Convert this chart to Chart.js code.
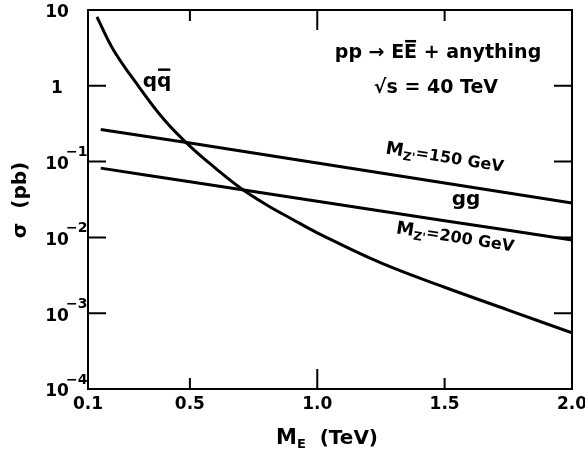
<!DOCTYPE html>
<html>
<head>
<meta charset="utf-8">
<script src="https://cdn.jsdelivr.net/npm/chart.js@4.4.0/dist/chart.umd.min.js"></script>
<style>
  body { margin: 0; background: #fff; }
  #wrap { width: 585px; height: 459px; }
</style>
</head>
<body>
<div id="wrap"><canvas id="grafico"></canvas></div>
<script>
// q qbar -> E Ebar
const massaQQ = [0.135, 0.2, 0.3, 0.4, 0.5, 0.6, 0.7, 0.8, 0.9, 1.0, 1.25, 1.5, 1.75, 2.0];
const sigmaQQ = [8.1, 2.97, 0.97, 0.354, 0.16, 0.082, 0.0445, 0.027, 0.0175, 0.0115, 0.0046, 0.0022, 0.0011, 0.00055];

// gg com M_Z' = 150 GeV
const massaZ150 = [0.15, 0.5, 1.0, 1.5, 2.0];
const sigmaZ150 = [0.265, 0.176, 0.096, 0.0523, 0.0284];

// gg com M_Z' = 200 GeV
const massaZ200 = [0.15, 0.5, 1.0, 1.5, 2.0];
const sigmaZ200 = [0.082, 0.0542, 0.030, 0.0166, 0.00925];

const ticksX = [0.1, 0.5, 1.0, 1.5, 2.0];
const rotulosX = ['0.1', '0.5', '1.0', '1.5', '2.0'];
const ticksY = [10, 1, 0.1, 0.01, 0.001, 0.0001];
const rotulosY = [['10', ''], ['1', ''], ['10', '−1'], ['10', '−2'], ['10', '−3'], ['10', '−4']];

const FAMILIA = '"DejaVu Sans", sans-serif';
const fonte = t => `bold ${t}px ${FAMILIA}`;

function pontos(xs, ys) {
  return xs.map((v, i) => ({ x: v, y: ys[i] }));
}

// desenha texto com partes de tamanhos diferentes: [texto, tamanho, dy, barra]
function textoComposto(ctx, partes, cx, cy) {
  let largura = 0;
  partes.forEach(p => { ctx.font = fonte(p[1]); largura += ctx.measureText(p[0]).width; });
  let px = cx - largura / 2;
  partes.forEach(p => {
    ctx.font = fonte(p[1]);
    const w = ctx.measureText(p[0]).width;
    const yy = cy + (p[2] || 0);
    ctx.fillText(p[0], px, yy);
    if (p[3]) {
      ctx.beginPath();
      ctx.lineWidth = 2.5;
      ctx.moveTo(px + 1, yy - p[1] * 0.62);
      ctx.lineTo(px + w - 1, yy - p[1] * 0.62);
      ctx.stroke();
    }
    px += w;
  });
}

const molduraPlugin = {
  id: 'moldura',
  afterDraw(chart) {
    const { ctx, chartArea: a, scales: { x, y } } = chart;
    ctx.save();
    ctx.strokeStyle = '#000';
    ctx.fillStyle = '#000';
    ctx.lineWidth = 2;
    ctx.strokeRect(a.left, a.top, a.right - a.left, a.bottom - a.top);

    // marcas para dentro
    ctx.beginPath();
    ticksX.forEach(v => {
      if (v <= x.min || v >= x.max) return;
      const px = x.getPixelForValue(v);
      const len = v === 1 ? 20 : 11;
      ctx.moveTo(px, a.bottom); ctx.lineTo(px, a.bottom - len);
      ctx.moveTo(px, a.top); ctx.lineTo(px, a.top + len);
    });
    ticksY.forEach(v => {
      if (v <= y.min || v >= y.max) return;
      const py = y.getPixelForValue(v);
      ctx.moveTo(a.left, py); ctx.lineTo(a.left + 18, py);
      ctx.moveTo(a.right, py); ctx.lineTo(a.right - 18, py);
    });
    ctx.stroke();

    // rotulos
    ctx.textBaseline = 'middle';
    ctx.textAlign = 'center';
    ctx.font = fonte(17);
    ticksX.forEach((v, i) => {
      ctx.fillText(rotulosX[i], x.getPixelForValue(v), a.bottom + 16);
    });
    ticksY.forEach((v, i) => {
      const py = y.getPixelForValue(v);
      const [base, exp] = rotulosY[i];
      ctx.textAlign = 'center';
      ctx.font = fonte(17);
      ctx.fillText(base, 57, py + 3);
      if (exp) {
        ctx.textAlign = 'left';
        ctx.font = fonte(14);
        ctx.fillText(exp, 66, py - 9);
      }
    });

    // titulos dos eixos
    ctx.textAlign = 'left';
    textoComposto(ctx, [['M', 21, 0], ['E', 13, 6], ['  (TeV)', 20, 0]], 327, 439);
    ctx.save();
    ctx.translate(21, 200);
    ctx.rotate(-Math.PI / 2);
    textoComposto(ctx, [['σ  (pb)', 20, 0]], 0, 0);
    ctx.restore();

    // anotacoes
    const pos = (mx, s) => [x.getPixelForValue(mx), y.getPixelForValue(s)];
    let [qx, qy] = pos(0.371, 1.12);
    textoComposto(ctx, [['q', 20, 0], ['q', 20, 0, true]], qx, qy);
    [qx, qy] = pos(1.474, 2.71);
    textoComposto(ctx, [['pp → E', 19, 0], ['E', 19, 0, true], [' + anything', 19, 0]], qx, qy);
    [qx, qy] = pos(1.466, 0.935);
    textoComposto(ctx, [['√s = 40 TeV', 19, 0]], qx, qy);
    [qx, qy] = pos(1.584, 0.0311);
    textoComposto(ctx, [['gg', 20, 0]], qx, qy);

    const rotacionado = (mx, s, partes) => {
      const [px, py] = pos(mx, s);
      ctx.save();
      ctx.translate(px, py);
      ctx.rotate(9 * Math.PI / 180);
      textoComposto(ctx, partes, 0, 0);
      ctx.restore();
    };
    rotacionado(1.5, 0.111, [['M', 18, 0], ["Z'", 12, 5], ['=150 GeV', 16, 0]]);
    rotacionado(1.541, 0.0098, [['M', 18, 0], ["Z'", 12, 5], ['=200 GeV', 16, 0]]);
    ctx.restore();
  }
};

const estiloLinha = {
  borderColor: '#000',
  borderWidth: 3,
  pointRadius: 0,
  fill: false,
  tension: 0.4
};

new Chart(document.getElementById('grafico'), {
  type: 'line',
  data: {
    datasets: [
      { label: 'qq', data: pontos(massaQQ, sigmaQQ), ...estiloLinha },
      { label: 'Z150', data: pontos(massaZ150, sigmaZ150), ...estiloLinha },
      { label: 'Z200', data: pontos(massaZ200, sigmaZ200), ...estiloLinha }
    ]
  },
  options: {
    responsive: true,
    maintainAspectRatio: false,
    animation: false,
    layout: { padding: { top: 10, right: 13, left: 0, bottom: 0 } },
    plugins: { legend: { display: false }, tooltip: { enabled: false } },
    scales: {
      x: {
        type: 'linear', min: 0.1, max: 2.0,
        grid: { display: false }, border: { display: false },
        ticks: { display: false },
        afterFit: s => { s.height = 70; }
      },
      y: {
        type: 'logarithmic', min: 0.0001, max: 10,
        grid: { display: false }, border: { display: false },
        ticks: { display: false },
        afterFit: s => { s.width = 88; }
      }
    }
  },
  plugins: [molduraPlugin]
});
</script>
</body>
</html>
